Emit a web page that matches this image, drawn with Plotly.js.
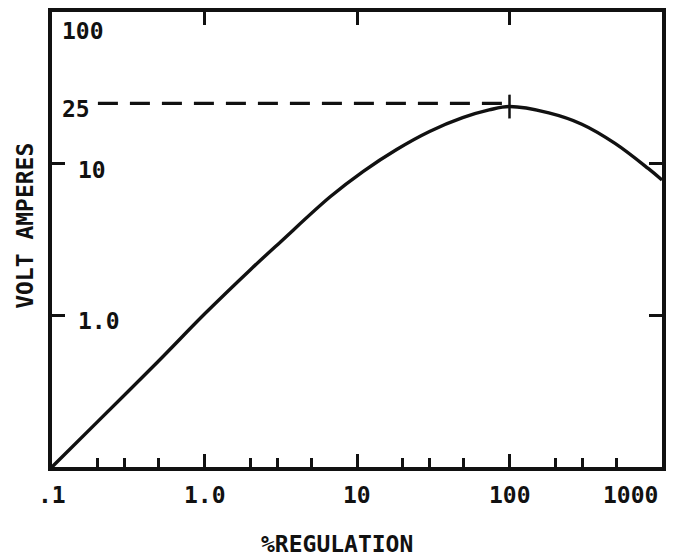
<!DOCTYPE html>
<html>
<head>
<meta charset="utf-8">
<script src="https://cdn.plot.ly/plotly-3.0.1.min.js"></script>
<style>html,body{margin:0;padding:0;background:#fff;}#chart{width:674px;height:559px;}</style>
</head>
<body>
<div id="chart"></div>
<script>
// ---- data ----
const regulation = [0.1, 0.2, 0.5, 1, 2, 3.15, 6.67, 11, 18.2, 29.9, 49.3, 73.5, 100, 181, 298, 492, 811, 1000];
const voltAmperes = [0.1, 0.2, 0.5, 1.02, 2.0, 3.05, 6.05, 8.9, 12.4, 16.3, 20.1, 22.6, 23.8, 21.6, 18.2, 13.6, 9.3, 7.8];
const peakX = [100];
const peakY = [23.8];
const refLevel = 25;
const refFromX = 0.2;
const refToX = 100;

const xMajorTicks = [1, 10, 100];
const xMinorTicks = [0.2, 0.3, 0.5, 2, 3, 5, 20, 30, 50, 200, 300, 500];
const xLabelVals = [0.1, 1, 10, 100, 1000];
const xLabelText = ['.1', '1.0', '10', '100', '1000'];
const yMajorTicks = [1, 10];
const yLabelVals = [1, 10, 25, 100];
const yLabelText = ['1.0', '10', '25', '100'];
const xTitle = '%REGULATION';
const yTitle = 'VOLT AMPERES';

// ---- drawing ----
const FONT = {family: 'DejaVu Sans Mono', size: 23, color: '#111'};
const INK = '#111';

const traces = [
  {
    x: regulation, y: voltAmperes, type: 'scatter', mode: 'lines',
    line: {color: INK, width: 3.4, shape: 'spline', smoothing: 1.0},
    xaxis: 'x', yaxis: 'y', hoverinfo: 'skip'
  },
  {
    x: [refFromX, refToX], y: [refLevel, refLevel], type: 'scatter', mode: 'lines',
    line: {color: INK, width: 3.2, dash: '20px,12px'},
    xaxis: 'x2', yaxis: 'y', hoverinfo: 'skip'
  },
  {
    x: peakX, y: peakY, type: 'scatter', mode: 'markers',
    marker: {symbol: 'line-ns', size: 17, line: {color: INK, width: 2.5}},
    xaxis: 'x', yaxis: 'y', hoverinfo: 'skip'
  }
];

const annotations = [];
const xMax = Math.max(...xLabelVals);
xLabelVals.forEach((v, i) => {
  const last = v === xMax;
  annotations.push({
    x: Math.log10(v), xref: 'x', y: 0, yref: 'paper',
    text: '<b>' + xLabelText[i] + '</b>', showarrow: false,
    xanchor: last ? 'right' : 'center', yanchor: 'middle',
    xshift: last ? -2 : 0, yshift: -28, font: FONT
  });
});
const yMax = Math.max(...yLabelVals);
yLabelVals.forEach((v, i) => {
  const hasTick = yMajorTicks.includes(v);
  const top = v === yMax;
  annotations.push({
    x: 0, xref: 'paper', y: Math.log10(v), yref: 'y',
    text: '<b>' + yLabelText[i] + '</b>', showarrow: false,
    xanchor: 'left', yanchor: top ? 'top' : 'middle',
    xshift: hasTick ? 24 : 8, yshift: top ? -4 : -6, font: FONT
  });
});
annotations.push({
  x: 0.467, xref: 'paper', y: 0, yref: 'paper', text: '<b>' + xTitle + '</b>',
  showarrow: false, xanchor: 'center', yanchor: 'middle', yshift: -77, borderpad: 0, font: FONT
});
annotations.push({
  x: 0, xref: 'paper', y: 0.53, yref: 'paper', text: '<b>' + yTitle + '</b>',
  showarrow: false, xanchor: 'center', yanchor: 'middle', xshift: -27, textangle: -90, font: FONT
});

const layout = {
  width: 674, height: 559,
  margin: {l: 52, r: 12, t: 12, b: 92},
  paper_bgcolor: '#fff', plot_bgcolor: '#fff',
  showlegend: false,
  xaxis: {
    type: 'log', range: [-1, 3], showgrid: false, zeroline: false,
    showline: true, linecolor: INK, linewidth: 4, mirror: 'ticks',
    ticks: 'inside', tickmode: 'array', tickvals: xMajorTicks, ticklen: 13, tickwidth: 3, tickcolor: INK,
    showticklabels: false, fixedrange: true
  },
  xaxis2: {
    type: 'log', range: [-1, 3], overlaying: 'x', anchor: 'y', side: 'bottom',
    showgrid: false, zeroline: false, showline: false,
    ticks: 'inside', tickmode: 'array', tickvals: xMinorTicks, ticklen: 9, tickwidth: 3, tickcolor: INK,
    showticklabels: false, fixedrange: true
  },
  yaxis: {
    type: 'log', range: [-1, 2], showgrid: false, zeroline: false,
    showline: true, linecolor: INK, linewidth: 4, mirror: 'ticks',
    ticks: 'inside', tickmode: 'array', tickvals: yMajorTicks, ticklen: 13, tickwidth: 3, tickcolor: INK,
    showticklabels: false, fixedrange: true
  },
  annotations: annotations
};

Plotly.newPlot('chart', traces, layout, {staticPlot: true, displayModeBar: false});
</script>
</body>
</html>
